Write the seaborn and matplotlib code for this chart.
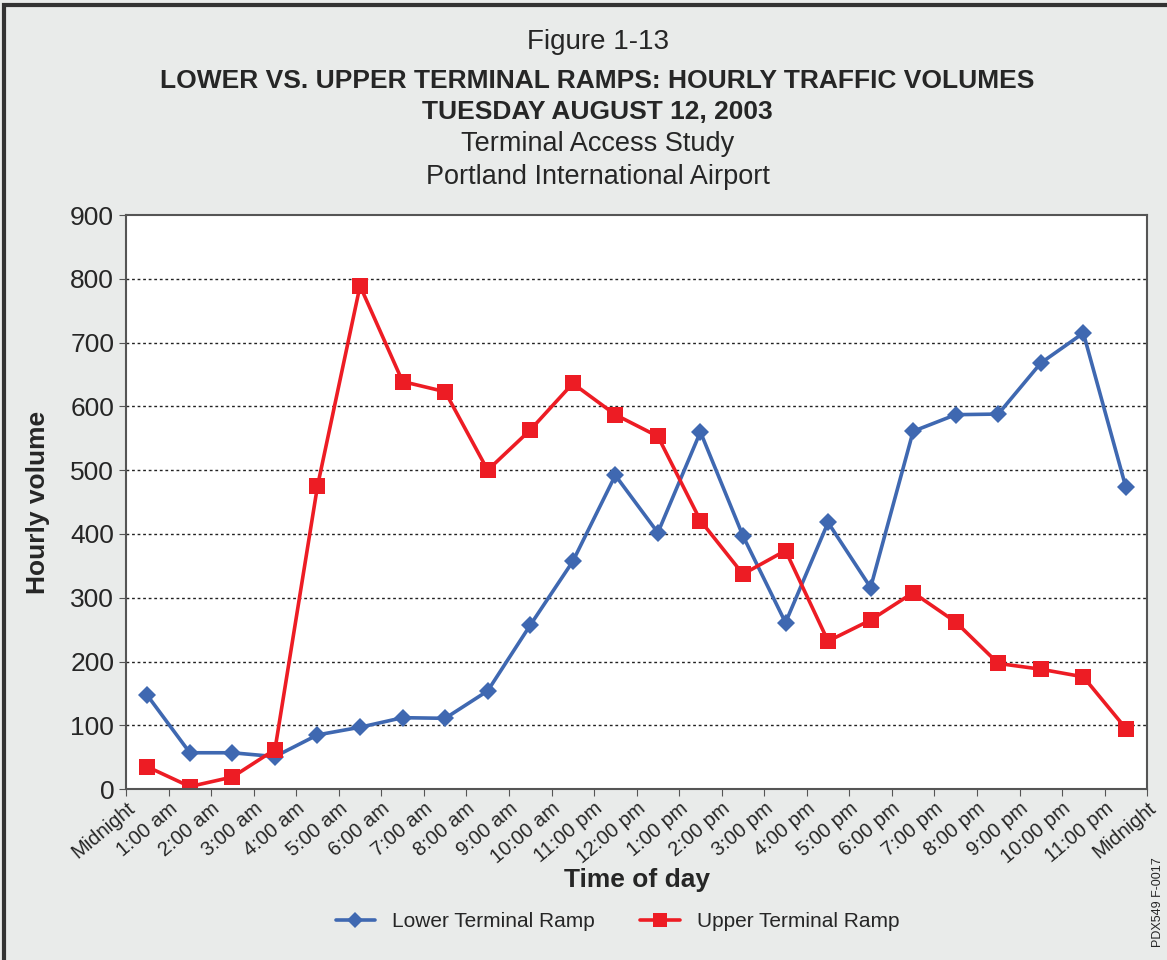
import matplotlib.pyplot as plt
import matplotlib.patches as mpatches
import pandas as pd
import seaborn as sns

# hourly volumes, one value per hour (midnight -> 11 pm)
hours = list(range(24))
lower_ramp = [147, 57, 57, 51, 85, 97, 112, 111, 154, 257, 357, 492,
              402, 560, 397, 261, 418, 316, 561, 587, 588, 668, 715, 473]
upper_ramp = [35, 4, 19, 62, 475, 789, 639, 623, 500, 563, 636, 587,
              553, 421, 337, 374, 232, 265, 308, 262, 197, 188, 176, 95]
tick_labels = ["Midnight", "1:00 am", "2:00 am", "3:00 am", "4:00 am", "5:00 am",
               "6:00 am", "7:00 am", "8:00 am", "9:00 am", "10:00 am", "11:00 pm",
               "12:00 pm", "1:00 pm", "2:00 pm", "3:00 pm", "4:00 pm", "5:00 pm",
               "6:00 pm", "7:00 pm", "8:00 pm", "9:00 pm", "10:00 pm", "11:00 pm",
               "Midnight"]
series_names = ["Lower Terminal Ramp", "Upper Terminal Ramp"]
colors = ["#3f68b1", "#ed1c24"]

# long form table, points sit in the middle of each hour
df = pd.DataFrame({
    "hour": [h + 0.5 for h in hours] * 2,
    "volume": lower_ramp + upper_ramp,
    "ramp": [series_names[0]] * 24 + [series_names[1]] * 24,
})

sns.set_style("white")
plt.rcParams['font.family'] = ['Liberation Sans', 'DejaVu Sans']
bg = "#e9ebea"

fig, ax = plt.subplots(figsize=(11.67, 9.6), dpi=100)
fig.patch.set_facecolor(bg)
fig.subplots_adjust(left=0.108, right=0.983, bottom=0.178, top=0.776)

sns.lineplot(data=df, x="hour", y="volume", hue="ramp", style="ramp",
             markers={series_names[0]: "D", series_names[1]: "s"}, dashes=False,
             palette=dict(zip(series_names, colors)), linewidth=2.6,
             markersize=9, markeredgewidth=0, ax=ax, legend=False)
# squares a bit larger than diamonds
ax.lines[1].set_markersize(11)

ax.set_xlim(0, 24)
ax.set_ylim(0, 900)
ax.set_xticks(range(25))
ax.set_xticklabels(tick_labels, rotation=40, ha="right", rotation_mode="anchor",
                   fontsize=14.5)
ax.set_yticks(range(0, 901, 100))
ax.tick_params(axis="y", labelsize=19, length=5, color="#555555", direction="out", left=True)
ax.tick_params(axis="x", length=5, pad=2, color="#555555", direction="out", bottom=True)
for y in range(100, 900, 100):
    ax.axhline(y, color="#222222", linestyle=(0, (2, 2)), linewidth=1.0, zorder=0)
for s in ax.spines.values():
    s.set_color("#555555")
    s.set_linewidth(1.5)

ax.set_xlabel("Time of day", fontsize=19, fontweight="bold")
ax.set_ylabel("Hourly volume", fontsize=19, fontweight="bold")
ax.xaxis.set_label_coords(0.5, -0.138)
ax.yaxis.set_label_coords(-0.074, 0.5)

# titles
fig.text(0.512, 0.956, "Figure 1-13", ha="center", va="center", fontsize=20)
fig.text(0.512, 0.916, "LOWER VS. UPPER TERMINAL RAMPS: HOURLY TRAFFIC VOLUMES",
         ha="center", va="center", fontsize=19, fontweight="bold")
fig.text(0.512, 0.883, "TUESDAY AUGUST 12, 2003", ha="center", va="center",
         fontsize=19, fontweight="bold")
fig.text(0.512, 0.850, "Terminal Access Study", ha="center", va="center", fontsize=19.5)
fig.text(0.512, 0.816, "Portland International Airport", ha="center", va="center", fontsize=19.5)

# legend below the x label
handles = [plt.Line2D([], [], color=colors[0], marker="D", markersize=8, lw=2.6, markeredgewidth=0),
           plt.Line2D([], [], color=colors[1], marker="s", markersize=10, lw=2.6, markeredgewidth=0)]
fig.legend(handles, series_names, loc="center", bbox_to_anchor=(0.529, 0.04), ncol=2,
           frameon=False, fontsize=15, columnspacing=2.2, handlelength=1.9)

fig.text(0.992, 0.06, "PDX549 F-0017", rotation=90, ha="center", va="center", fontsize=9)

# dark frame around the whole figure
fig.patches.append(mpatches.Rectangle((0.003, -0.01), 1.0, 1.005, transform=fig.transFigure,
                                      fill=False, edgecolor="#333333", linewidth=3))

fig.savefig("out.png", dpi=100, facecolor=bg)
